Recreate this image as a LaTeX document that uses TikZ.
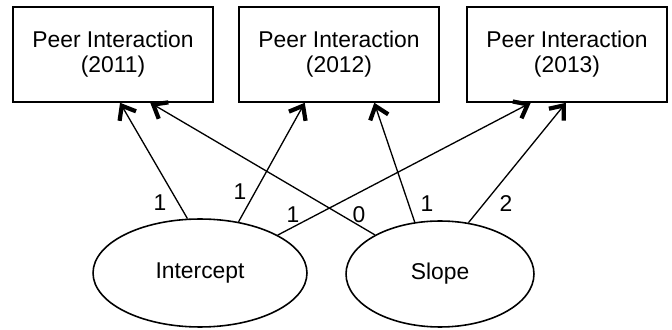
\documentclass[tikz,border=0pt]{standalone}
\usepackage{fontspec}
\setmainfont{Liberation Sans}
\usetikzlibrary{arrows.meta, calc, shapes.geometric}

\begin{document}
\begin{tikzpicture}[x=0.02cm, y=-0.02cm,
    font=\fontsize{13}{14.2}\selectfont,
    wave/.style={draw, line width=0.9pt, minimum width=4cm, minimum height=1.9cm, align=center},
    factor/.style={draw, ellipse, line width=0.9pt, inner sep=0pt},
    load/.style={-{Straight Barb[length=0.24cm, width=0.38cm, line width=2.4pt]}, line width=0.75pt},
    weight/.style={inner sep=0pt}]
    \useasboundingbox (0,0) rectangle (672,330);
    % measured waves
    \node [wave] (P1) at (113,54.5) {Peer Interaction\\(2011)};
    \node [wave] (P2) at (339,54.5) {Peer Interaction\\(2012)};
    \node [wave] (P3) at (567,54.5) {Peer Interaction\\(2013)};
    % growth factors
    \node [factor, minimum width=4.28cm, minimum height=2.16cm] (I) at (200,273) {Intercept};
    \node [factor, minimum width=3.76cm, minimum height=2.12cm] (S) at (440,274) {Slope};
    % loadings
    \draw [load] (I.103.5) -- ($(P1.south west)!0.535!(P1.south east)$);
    \draw [load] (I.53.5) -- ($(P2.south west)!0.33!(P2.south east)$);
    \draw [load] (I.26.9) -- ($(P3.south west)!0.32!(P3.south east)$);
    \draw [load] (S.149.4) -- ($(P1.south west)!0.685!(P1.south east)$);
    \draw [load] (S.116.6) -- ($(P2.south west)!0.675!(P2.south east)$);
    \draw [load] (S.61.2) -- ($(P3.south west)!0.495!(P3.south east)$);
    \node [weight] (w1) at (160,203) {1};
    \node [weight] (w2) at (240,192) {1};
    \node [weight] (w3) at (293,215) {1};
    \node [weight] (w4) at (359,215) {0};
    \node [weight] (w5) at (427,204) {1};
    \node [weight] (w6) at (506,204) {2};
\end{tikzpicture}
\end{document}
